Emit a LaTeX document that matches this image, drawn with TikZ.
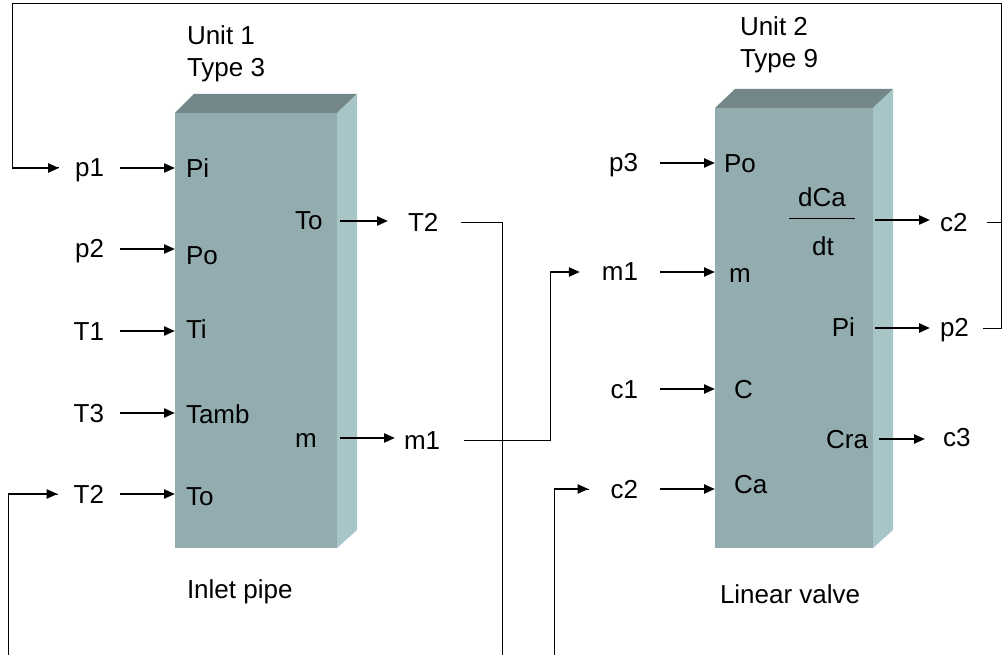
\documentclass[tikz,border=0pt]{standalone}
\usepackage{fontspec}
\setmainfont{Liberation Sans}
\usetikzlibrary{arrows.meta}
\definecolor{frontc}{HTML}{93ACAF}
\definecolor{topc}{HTML}{738789}
\definecolor{sidec}{HTML}{A7C4C7}
\begin{document}
\begin{tikzpicture}[x=1pt,y=-1pt,
  every node/.style={font=\fontsize{26}{31}\selectfont, inner sep=0pt, outer sep=0pt},
  lab/.style={text height=19pt, text depth=1pt},
  arr/.style={line width=2.3pt, -{Triangle[length=11pt,width=9pt]}},
  fb/.style={line width=1pt},
  frontface/.style={fill=frontc},
  topface/.style={fill=topc},
  sideface/.style={fill=sidec}]
\useasboundingbox (0,0) rectangle (1002,655);

% ---- block 1 ----
\path[frontface] (175,113) rectangle (337,548);
\path[topface] (175,113) -- (194,94) -- (357,94) -- (337,113) -- cycle;
\path[sideface] (337,113) -- (357,94) -- (357,530) -- (337,548) -- cycle;

% ---- block 2 ----
\path[frontface] (715,108) rectangle (873,548);
\path[topface] (715,108) -- (735,89) -- (893,89) -- (873,108) -- cycle;
\path[sideface] (873,108) -- (893,89) -- (893,530) -- (873,548) -- cycle;

% ---- titles ----
\node[anchor=base west] (u1) at (187,45) {Unit 1};
\node[anchor=base west] (ty1) at (187,77) {Type 3};
\node[anchor=base west] (u2) at (740,36) {Unit 2};
\node[anchor=base west] (ty2) at (740,68) {Type 9};
\node[anchor=base west] (cap1) at (187,598) {Inlet pipe};
\node[anchor=base west] (cap2) at (720,603) {Linear valve};

% ---- unit 1 inputs ----
\node[lab, anchor=east, inner xsep=16pt] (p1) at (120,168) {p1};
\node[lab, anchor=east, inner xsep=16pt] (p2) at (120,249) {p2};
\node[lab, anchor=east, inner xsep=16pt] (T1) at (120,331) {T1};
\node[lab, anchor=east, inner xsep=16pt] (T3) at (120,413) {T3};
\node[lab, anchor=east, inner xsep=16pt] (T2i) at (120,494) {T2};

\node[lab, anchor=west, inner xsep=11pt] (Pi) at (175,169) {Pi};
\node[lab, anchor=west, inner xsep=11pt] (Po) at (175,256) {Po};
\node[lab, anchor=west, inner xsep=11pt] (Ti) at (175,329) {Ti};
\node[lab, anchor=west, inner xsep=11pt] (Tamb) at (175,414) {Tamb};
\node[lab, anchor=west, inner xsep=11pt] (Toin) at (175,496) {To};

\draw[arr] (p1.east) -- (p1.east -| Pi.west);
\draw[arr] (p2.east) -- (p2.east -| Po.west);
\draw[arr] (T1.east) -- (T1.east -| Ti.west);
\draw[arr] (T3.east) -- (T3.east -| Tamb.west);
\draw[arr] (T2i.east) -- (T2i.east -| Toin.west);

% ---- unit 1 outputs ----
\node[lab, anchor=west, text width=45pt, align=left] (Toout) at (295,221) {To};
\node[lab, anchor=west, text width=45pt, align=left] (mout) at (295,438) {m};
\node[lab, anchor=west, inner xsep=20pt] (T2o) at (388,223) {T2};
\node[lab, anchor=west, inner xsep=9pt] (m1o) at (395,440) {m1};
\draw[arr] (Toout.east) -- (Toout.east -| T2o.west);
\draw[arr] (mout.east) -- (mout.east -| m1o.west);

% ---- unit 2 inputs ----
\node[lab, anchor=east, inner xsep=22pt] (p3) at (660,163) {p3};
\node[lab, anchor=east, inner xsep=22pt] (m1i) at (660,272) {m1};
\node[lab, anchor=east, inner xsep=22pt] (c1) at (660,389) {c1};
\node[lab, anchor=east, inner xsep=22pt] (c2i) at (660,489) {c2};

\node[lab, anchor=west, inner xsep=9pt] (Po2) at (715,164) {Po};
\node[lab, anchor=west, inner xsep=14pt] (m2) at (715,274) {m};
\node[lab, anchor=west, inner xsep=19pt] (C2) at (715,389) {C};
\node[lab, anchor=west, inner xsep=19pt] (Ca) at (715,484) {Ca};

\draw[arr] (p3.east) -- (p3.east -| Po2.west);
\draw[arr] (m1i.east) -- (m1i.east -| m2.west);
\draw[arr] (c1.east) -- (c1.east -| C2.west);
\draw[arr] (c2i.east) -- (c2i.east -| Ca.west);

% ---- unit 2 outputs ----
\node[minimum width=86pt, minimum height=4pt, anchor=east] (dcadt) at (875,220) {};
\node[anchor=base] (dCa) at (822,207) {dCa};
\node[anchor=base] (dt) at (823,256) {dt};
\draw[line width=1pt] (789,219) -- (855,219);
\node[lab, anchor=west, inner xsep=10pt] (c2o) at (930,223) {c2};
\node[lab, anchor=east, inner xsep=20pt] (Pi2) at (875,328) {Pi};
\node[lab, anchor=west, inner xsep=10pt] (p2o) at (930,328) {p2};
\node[lab, anchor=east, inner xsep=11pt] (Cra) at (879,439) {Cra};
\node[lab, anchor=west, inner xsep=18pt] (c3) at (925,437) {c3};

\draw[arr] (dcadt.east) -- (dcadt.east -| c2o.west);
\draw[arr] (Pi2.east) -- (Pi2.east -| p2o.west);
\draw[arr] (Cra.east) -- (Cra.east -| c3.west);

% ---- feedback connections ----
\coordinate (R) at (1001,4);
\coordinate (L) at (12,4);
\coordinate (Tbus) at (502,655);
\coordinate (mc) at (550,0);
\coordinate (Bl) at (8,655);
\coordinate (Bc) at (554,655);

\draw[fb, shorten <=4pt] (p2o.east) -| (R) -- (L) |- (p1.west);
\draw[arr] (L |- p1.west) -- (p1.west);
\draw[fb, shorten <=10pt] (c2o.east) -- (c2o.east -| R);

\draw[fb, shorten <=3pt] (T2o.east) -| (Tbus);

\draw[fb, shorten <=15pt] (m1o.east) -| (mc |- m1i.west);
\draw[arr] (mc |- m1i.west) -- (m1i.west);

\draw[fb] (Bl) |- (T2i.west);
\draw[arr] (Bl |- T2i.west) -- (T2i.west);

\draw[fb] (Bc) |- (c2i.west);
\draw[arr] (Bc |- c2i.west) -- (c2i.west);
\end{tikzpicture}
\end{document}
